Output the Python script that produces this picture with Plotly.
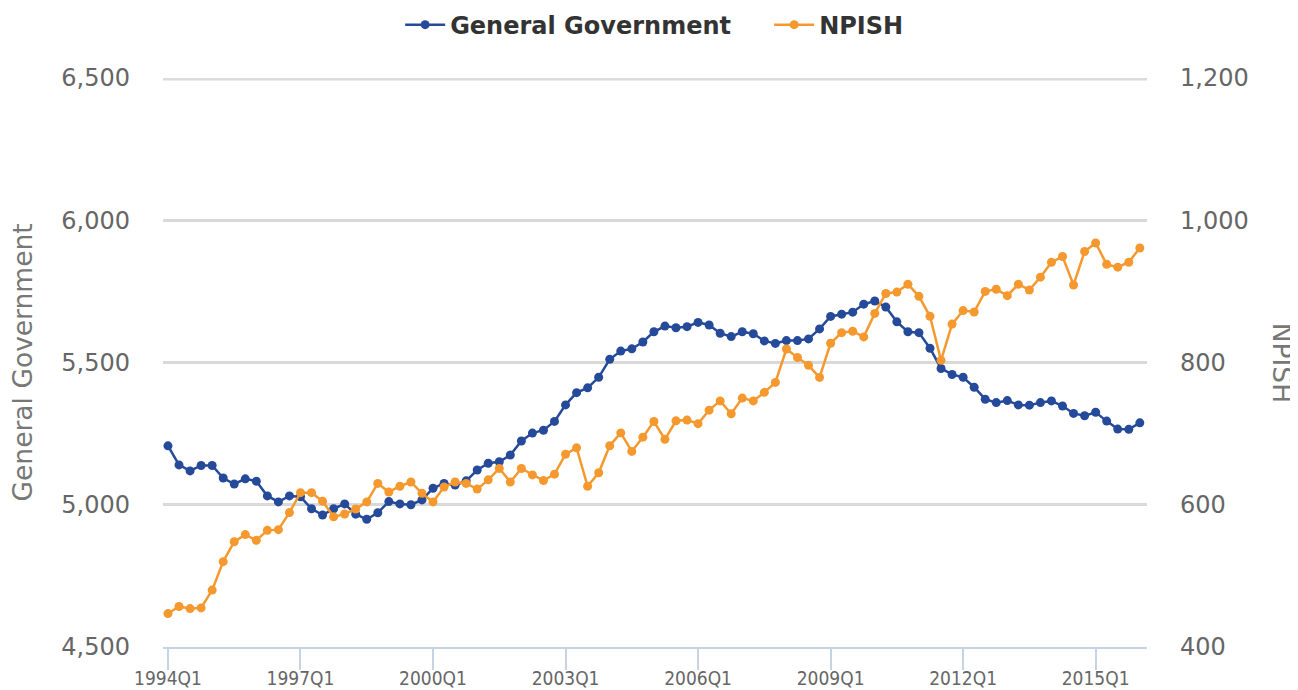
import plotly.graph_objects as go

quarters = [f"{y}Q{q}" for y in range(1994, 2017) for q in range(1, 5)][:89]

general_government = [
    5207, 5140, 5119, 5138, 5138, 5094, 5073, 5091, 5083, 5031, 5010, 5031,
    5028, 4986, 4964, 4986, 5003, 4967, 4949, 4972, 5011, 5003, 5000, 5017,
    5058, 5075, 5069, 5084, 5122, 5146, 5151, 5175, 5224, 5252, 5262, 5293,
    5351, 5394, 5411, 5448, 5511, 5540, 5548, 5572, 5608, 5628, 5622, 5626,
    5641, 5632, 5603, 5591, 5608, 5601, 5576, 5567, 5577, 5577, 5583, 5618,
    5662, 5670, 5677, 5705, 5716, 5695, 5643, 5608, 5605, 5550, 5479, 5458,
    5448, 5413, 5371, 5359, 5366, 5351, 5350, 5359, 5365, 5347, 5321, 5313,
    5325, 5294, 5266, 5265, 5288,
]

npish = [
    447, 457, 454, 455, 480, 520, 548, 558, 550, 564, 565, 589,
    617, 617, 605, 583, 587, 594, 604, 630, 618, 626, 632, 616,
    604, 625, 632, 630, 622, 635, 651, 632, 651, 642, 634, 643,
    671, 680, 626, 645, 683, 701, 675, 695, 717, 692, 718, 719,
    714, 733, 746, 728, 750, 746, 758, 772, 819, 807, 796, 779,
    827, 842, 844, 836, 869, 897, 899, 910, 893, 865, 803, 854,
    873, 871, 900, 903, 894, 910, 902, 920, 941, 949, 909, 956,
    968, 938, 934, 941, 961,
]

x_tick_labels = ["1994Q1", "1997Q1", "2000Q1", "2003Q1", "2006Q1", "2009Q1", "2012Q1", "2015Q1"]

GG_COLOR = "#264a9a"
NP_COLOR = "#f5992f"
TXT = "#666666"
GRID = "#d9d9d9"

fig = go.Figure()
fig.add_trace(go.Scatter(
    x=quarters, y=general_government, name="General Government",
    mode="lines+markers", line=dict(color=GG_COLOR, width=2.5),
    marker=dict(size=9, color=GG_COLOR), yaxis="y",
))
fig.add_trace(go.Scatter(
    x=quarters, y=npish, name="NPISH",
    mode="lines+markers", line=dict(color=NP_COLOR, width=2.5),
    marker=dict(size=9, color=NP_COLOR), yaxis="y2",
))

fig.update_layout(
    width=1290, height=682,
    margin=dict(l=155, r=151, t=70, b=43),
    plot_bgcolor="white", paper_bgcolor="white",
    font=dict(family="DejaVu Sans", color=TXT),
    showlegend=True,
    legend=dict(
        orientation="h", x=0.241, xanchor="left", y=0.975, yanchor="middle",
        yref="container", font=dict(family="DejaVu Sans", size=24, color="#333333", weight="bold"),
        itemwidth=40, entrywidth=314, traceorder="normal",
    ),
    xaxis=dict(
        type="category", range=[-0.45, 88.65],
        tickmode="array", tickvals=x_tick_labels, ticktext=x_tick_labels,
        ticks="outside", ticklen=21, tickwidth=2, tickcolor="#c5d3e3",
        showline=True, linecolor="#c5d3e3", linewidth=2,
        showgrid=False, zeroline=False, automargin=False,
        tickfont=dict(family="Liberation Sans Narrow, DejaVu Sans Condensed", size=19, color=TXT),
        ticklabelstandoff=-8,
    ),
    yaxis=dict(
        range=[4500, 6500], dtick=500, tickformat=",",
        showgrid=True, gridcolor=GRID, gridwidth=2.5,
        zeroline=False, showline=False, ticks="", automargin=False,
        tickfont=dict(family="DejaVu Sans", size=24, color=TXT),
        ticklabelstandoff=32,
    ),
    yaxis2=dict(
        range=[400, 1200], dtick=200, tickformat=",",
        overlaying="y", side="right", showgrid=False,
        zeroline=False, showline=False, ticks="", automargin=False,
        tickfont=dict(family="DejaVu Sans", size=24, color=TXT),
        ticklabelstandoff=32,
    ),
    shapes=[dict(type="line", xref="paper", yref="y", x0=0, x1=1, y0=6500, y1=6500,
                 line=dict(color="#dcdcdc", width=5), layer="above")],
    annotations=[
        dict(text="General Government", xref="paper", yref="paper", x=-0.1423, y=0.5,
             xanchor="center", yanchor="middle", textangle=-90, showarrow=False,
             font=dict(family="DejaVu Sans", size=26.5, color="#777777")),
        dict(text="NPISH", xref="paper", yref="paper", x=1.138, y=0.5,
             xanchor="center", yanchor="middle", textangle=90, showarrow=False,
             font=dict(family="DejaVu Sans", size=26.5, color="#777777")),
    ],
)

fig.write_html("out.html")
